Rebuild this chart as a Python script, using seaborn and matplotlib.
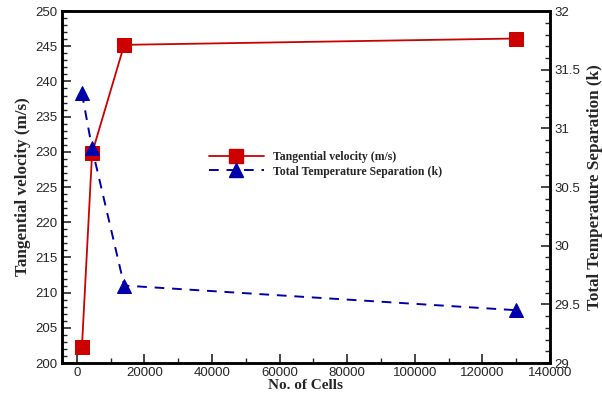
import matplotlib
matplotlib.use("Agg")
import matplotlib.pyplot as plt
import seaborn as sns
import pandas as pd
from matplotlib.ticker import MultipleLocator
from matplotlib.lines import Line2D

cells = [1500, 4500, 14000, 130000]
tangential_velocity = [202.3, 229.8, 245.2, 246.1]
temperature_sep = [31.30, 30.83, 29.66, 29.45]

sns.set_style("ticks")
plt.rcParams['font.family'] = ['Liberation Sans', 'DejaVu Sans']

df = pd.DataFrame({"cells": cells, "vel": tangential_velocity, "sep": temperature_sep})

fig = plt.figure(figsize=(6.02, 3.95), dpi=100)
ax = fig.add_axes([0.103, 0.081, 0.8106, 0.891])
ax2 = ax.twinx()

red = "#CC0000"
blue = "#0000AA"

sns.lineplot(data=df, x="cells", y="vel", ax=ax, color=red, linewidth=1.3,
             marker="s", markersize=9.5, markeredgecolor=red, markerfacecolor=red)
sns.lineplot(data=df, x="cells", y="sep", ax=ax2, color=blue, linewidth=1.4,
             marker="^", markersize=10.5, markeredgecolor=blue, markerfacecolor=blue)
for l in ax2.get_lines():
    l.set_linestyle((0, (5, 4)))

ax.set_xlim(-4400, 140000)
ax.set_ylim(200, 250)
ax2.set_ylim(29, 32)

ax.xaxis.set_major_locator(MultipleLocator(20000))
ax.xaxis.set_minor_locator(MultipleLocator(10000))
ax.yaxis.set_major_locator(MultipleLocator(5))
ax.yaxis.set_minor_locator(MultipleLocator(1))
ax2.yaxis.set_major_locator(MultipleLocator(0.5))
ax2.yaxis.set_minor_locator(MultipleLocator(0.1))
ax2.set_yticks([29, 29.5, 30, 30.5, 31, 31.5, 32])
ax2.set_yticklabels(["29", "29.5", "30", "30.5", "31", "31.5", "32"])

for a in (ax, ax2):
    a.tick_params(which="major", direction="in", length=6.5, width=1.2, labelsize=9.5, pad=3)
    a.tick_params(which="minor", direction="in", length=3.5, width=1.0)
    for s in a.spines.values():
        s.set_linewidth(1.8)
        s.set_color("black")
ax.tick_params(axis="y", which="both", right=False)
ax.tick_params(axis="x", which="both", top=False)
ax2.tick_params(axis="x", which="both", top=False, bottom=False)

serif = ["Liberation Serif", "DejaVu Serif"]
ax.set_xlabel("No. of Cells", labelpad=0, family=serif, fontweight="bold", fontsize=11)
ax.set_ylabel("Tangential velocity (m/s)", labelpad=3, family=serif, fontweight="bold", fontsize=12.3)
ax2.set_ylabel("Total Temperature Separation (k)", rotation=90, labelpad=5,
               family=serif, fontweight="bold", fontsize=12.3)

handles = [
    Line2D([], [], color=red, linewidth=1.3, marker="s", markersize=9.5,
           markerfacecolor=red, markeredgecolor=red),
    Line2D([], [], color=blue, linewidth=1.4, linestyle=(0, (5, 4)), marker="^",
           markersize=10.5, markerfacecolor=blue, markeredgecolor=blue),
]
leg = ax.legend(handles, ["Tangential velocity (m/s)", "Total Temperature Separation (k)"],
                loc="center left", bbox_to_anchor=(0.28, 0.565), frameon=False,
                handlelength=4.6, handletextpad=0.8, labelspacing=0.25, numpoints=1,
                prop=dict(family=serif, weight="bold", size=8.5))

fig.savefig("out.png", dpi=100)
